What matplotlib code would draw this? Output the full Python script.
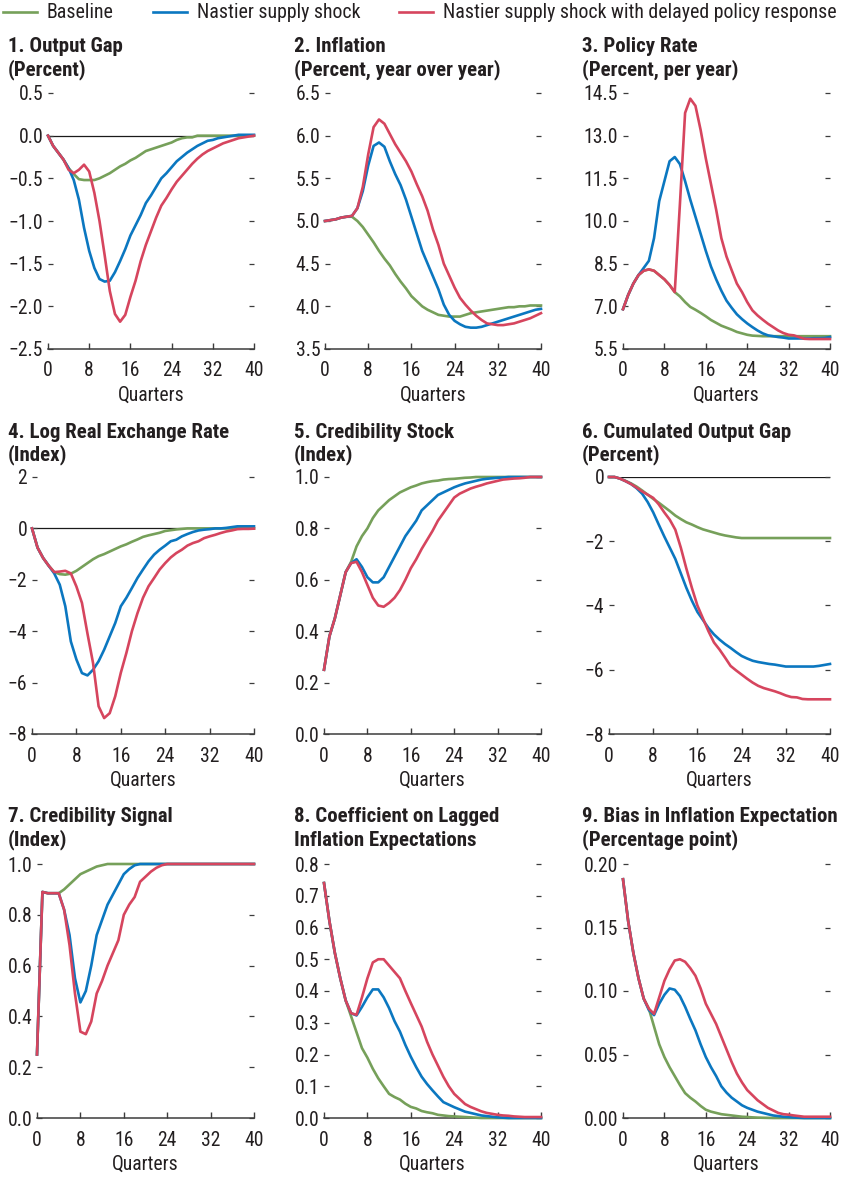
import matplotlib
matplotlib.use("Agg")
import matplotlib.pyplot as plt
import matplotlib.font_manager as fm
import numpy as np
from matplotlib.ticker import FuncFormatter, FixedLocator

# ---------------- data (quarters 0..40) ----------------
quarters = list(range(41))
series_names = ["Baseline", "Nastier supply shock",
                "Nastier supply shock with delayed policy response"]

gap_base = [0.00, -0.12, -0.20, -0.28, -0.38, -0.45, -0.51, -0.52, -0.52, -0.52,
            -0.50, -0.47, -0.44, -0.40, -0.36, -0.33, -0.29, -0.26, -0.22, -0.18,
            -0.16, -0.14, -0.12, -0.10, -0.08, -0.05, -0.03, -0.02, -0.02, 0.00,
            0.00, 0.00, 0.00, 0.00, 0.00, 0.00, 0.00, 0.00, 0.00, 0.00, 0.00]
gap_nasty = [0.00, -0.12, -0.20, -0.28, -0.38, -0.52, -0.75, -1.08, -1.35, -1.55,
             -1.68, -1.71, -1.70, -1.60, -1.47, -1.33, -1.17, -1.05, -0.93, -0.79,
             -0.70, -0.60, -0.50, -0.44, -0.37, -0.30, -0.25, -0.20, -0.16, -0.12,
             -0.09, -0.06, -0.05, -0.03, -0.02, -0.01, 0.00, 0.01, 0.01, 0.01, 0.01]
gap_delay = [0.00, -0.12, -0.20, -0.28, -0.40, -0.44, -0.40, -0.34, -0.42, -0.67,
             -1.00, -1.40, -1.82, -2.09, -2.18, -2.10, -1.89, -1.70, -1.47, -1.28,
             -1.12, -0.96, -0.82, -0.73, -0.63, -0.54, -0.47, -0.40, -0.33, -0.27,
             -0.22, -0.18, -0.15, -0.12, -0.09, -0.07, -0.05, -0.03, -0.02, -0.01, 0.00]

infl_base = [5.00, 5.01, 5.02, 5.04, 5.05, 5.05, 5.00, 4.93, 4.84, 4.75,
             4.65, 4.56, 4.48, 4.38, 4.29, 4.21, 4.12, 4.06, 4.00, 3.96,
             3.93, 3.90, 3.89, 3.88, 3.88, 3.88, 3.90, 3.92, 3.93, 3.94,
             3.95, 3.96, 3.97, 3.98, 3.99, 3.99, 4.00, 4.00, 4.01, 4.01, 4.01]
infl_nasty = [5.00, 5.01, 5.02, 5.04, 5.05, 5.06, 5.15, 5.35, 5.65, 5.88,
              5.92, 5.87, 5.70, 5.55, 5.42, 5.25, 5.05, 4.85, 4.65, 4.50,
              4.35, 4.20, 4.02, 3.90, 3.83, 3.79, 3.76, 3.75, 3.75, 3.76,
              3.78, 3.80, 3.82, 3.84, 3.86, 3.88, 3.90, 3.92, 3.94, 3.96, 3.97]
infl_delay = [5.00, 5.01, 5.02, 5.04, 5.05, 5.06, 5.15, 5.40, 5.78, 6.10,
              6.19, 6.14, 6.02, 5.90, 5.80, 5.70, 5.58, 5.43, 5.29, 5.12,
              4.90, 4.72, 4.50, 4.36, 4.22, 4.10, 4.02, 3.95, 3.89, 3.84,
              3.80, 3.79, 3.78, 3.78, 3.79, 3.80, 3.82, 3.84, 3.86, 3.89, 3.92]

rate_base = [6.90, 7.40, 7.80, 8.10, 8.25, 8.30, 8.25, 8.10, 7.95, 7.75,
             7.50, 7.35, 7.15, 6.98, 6.88, 6.77, 6.65, 6.52, 6.42, 6.32,
             6.25, 6.18, 6.10, 6.05, 6.00, 5.97, 5.96, 5.95, 5.95, 5.95,
             5.95, 5.95, 5.95, 5.95, 5.95, 5.95, 5.95, 5.95, 5.95, 5.95, 5.95]
rate_nasty = [6.90, 7.40, 7.80, 8.10, 8.35, 8.60, 9.40, 10.70, 11.40, 12.10,
              12.25, 12.00, 11.40, 10.75, 10.15, 9.55, 8.95, 8.40, 7.95, 7.55,
              7.20, 6.95, 6.72, 6.55, 6.40, 6.27, 6.15, 6.05, 5.98, 5.95,
              5.92, 5.90, 5.87, 5.87, 5.87, 5.87, 5.87, 5.88, 5.88, 5.89, 5.92]
rate_delay = [6.90, 7.40, 7.80, 8.10, 8.25, 8.30, 8.25, 8.10, 7.95, 7.75,
              7.50, 10.60, 13.80, 14.30, 14.05, 13.20, 12.20, 11.30, 10.40, 9.40,
              8.75, 8.27, 7.80, 7.50, 7.15, 6.86, 6.68, 6.53, 6.39, 6.27,
              6.15, 6.06, 6.00, 5.98, 5.92, 5.86, 5.85, 5.85, 5.85, 5.85, 5.85]

rer_base = [0.00, -0.75, -1.15, -1.45, -1.70, -1.78, -1.80, -1.76, -1.65, -1.50,
            -1.35, -1.20, -1.08, -1.00, -0.90, -0.80, -0.70, -0.62, -0.52, -0.43,
            -0.33, -0.27, -0.22, -0.17, -0.10, -0.07, -0.04, -0.02, 0.00, 0.00,
            0.00, 0.00, 0.00, 0.00, 0.00, 0.00, 0.00, 0.00, 0.00, 0.00, 0.00]
rer_nasty = [0.00, -0.75, -1.15, -1.45, -1.75, -2.19, -3.03, -4.40, -5.10, -5.63,
             -5.72, -5.50, -5.17, -4.72, -4.20, -3.68, -3.03, -2.70, -2.32, -1.93,
             -1.60, -1.28, -1.02, -0.83, -0.67, -0.50, -0.44, -0.31, -0.22, -0.14,
             -0.08, -0.05, -0.03, 0.00, 0.00, 0.02, 0.05, 0.08, 0.08, 0.08, 0.08]
rer_delay = [0.00, -0.75, -1.15, -1.45, -1.70, -1.68, -1.65, -1.75, -2.26, -2.90,
             -4.10, -5.24, -6.92, -7.38, -7.19, -6.53, -5.62, -4.85, -4.00, -3.30,
             -2.70, -2.25, -1.93, -1.60, -1.35, -1.13, -0.96, -0.83, -0.67, -0.57,
             -0.50, -0.38, -0.31, -0.25, -0.18, -0.12, -0.08, -0.03, -0.02, -0.02, -0.01]

cred_base = [0.25, 0.38, 0.45, 0.54, 0.63, 0.67, 0.73, 0.77, 0.80, 0.84,
             0.87, 0.89, 0.91, 0.925, 0.94, 0.95, 0.96, 0.967, 0.975, 0.98,
             0.984, 0.986, 0.99, 0.992, 0.993, 0.995, 0.997, 0.998, 1.0, 1.0,
             1.0, 1.0, 1.0, 1.0, 1.0, 1.0, 1.0, 1.0, 1.0, 1.0, 1.0]
cred_nasty = [0.25, 0.38, 0.45, 0.54, 0.63, 0.665, 0.68, 0.65, 0.61, 0.59,
              0.59, 0.61, 0.65, 0.69, 0.73, 0.77, 0.80, 0.83, 0.87, 0.89,
              0.91, 0.93, 0.94, 0.95, 0.96, 0.968, 0.975, 0.98, 0.985, 0.99,
              0.993, 0.995, 0.997, 0.998, 1.0, 1.0, 1.0, 1.0, 1.0, 1.0, 1.0]
cred_delay = [0.25, 0.38, 0.45, 0.54, 0.63, 0.665, 0.67, 0.63, 0.58, 0.53,
              0.50, 0.495, 0.51, 0.53, 0.56, 0.60, 0.645, 0.68, 0.72, 0.755,
              0.79, 0.83, 0.86, 0.89, 0.92, 0.935, 0.945, 0.955, 0.962, 0.968,
              0.975, 0.98, 0.985, 0.99, 0.992, 0.994, 0.995, 0.997, 1.0, 1.0, 1.0]

cumgap_base = [0.00, 0.00, -0.05, -0.12, -0.20, -0.30, -0.42, -0.55, -0.68, -0.80,
               -0.93, -1.06, -1.20, -1.31, -1.41, -1.48, -1.56, -1.63, -1.68, -1.73,
               -1.78, -1.82, -1.85, -1.88, -1.90, -1.90, -1.90, -1.90, -1.90, -1.90,
               -1.90, -1.90, -1.90, -1.90, -1.90, -1.90, -1.90, -1.90, -1.90, -1.90, -1.90]
cumgap_nasty = [0.00, 0.00, -0.05, -0.13, -0.22, -0.35, -0.52, -0.78, -1.10, -1.48,
                -1.85, -2.20, -2.55, -3.00, -3.45, -3.85, -4.20, -4.45, -4.70, -4.90,
                -5.06, -5.20, -5.32, -5.45, -5.57, -5.65, -5.72, -5.76, -5.79, -5.82,
                -5.84, -5.87, -5.90, -5.90, -5.90, -5.90, -5.90, -5.90, -5.88, -5.85, -5.82]
cumgap_delay = [0.00, 0.00, -0.05, -0.13, -0.22, -0.33, -0.45, -0.55, -0.65, -0.85,
                -1.10, -1.33, -1.64, -2.20, -2.85, -3.45, -4.00, -4.40, -4.80, -5.15,
                -5.37, -5.62, -5.88, -6.02, -6.15, -6.28, -6.40, -6.50, -6.57, -6.62,
                -6.67, -6.73, -6.80, -6.85, -6.86, -6.91, -6.92, -6.92, -6.92, -6.92, -6.92]

signal_base = [0.25, 0.89, 0.885, 0.885, 0.885, 0.90, 0.92, 0.94, 0.96, 0.97,
               0.98, 0.99, 0.995, 1.0, 1.0, 1.0, 1.0, 1.0, 1.0, 1.0,
               1.0, 1.0, 1.0, 1.0, 1.0, 1.0, 1.0, 1.0, 1.0, 1.0,
               1.0, 1.0, 1.0, 1.0, 1.0, 1.0, 1.0, 1.0, 1.0, 1.0, 1.0]
signal_nasty = [0.25, 0.89, 0.885, 0.885, 0.885, 0.82, 0.72, 0.55, 0.455, 0.50,
                0.60, 0.72, 0.78, 0.84, 0.88, 0.92, 0.96, 0.98, 0.995, 1.0,
                1.0, 1.0, 1.0, 1.0, 1.0, 1.0, 1.0, 1.0, 1.0, 1.0,
                1.0, 1.0, 1.0, 1.0, 1.0, 1.0, 1.0, 1.0, 1.0, 1.0, 1.0]
signal_delay = [0.25, 0.89, 0.885, 0.885, 0.885, 0.82, 0.68, 0.49, 0.34, 0.33,
                0.38, 0.49, 0.54, 0.60, 0.65, 0.70, 0.80, 0.84, 0.87, 0.93,
                0.95, 0.97, 0.985, 0.995, 1.0, 1.0, 1.0, 1.0, 1.0, 1.0,
                1.0, 1.0, 1.0, 1.0, 1.0, 1.0, 1.0, 1.0, 1.0, 1.0, 1.0]

coef_base = [0.74, 0.62, 0.52, 0.44, 0.37, 0.32, 0.27, 0.22, 0.19, 0.155,
             0.125, 0.10, 0.076, 0.066, 0.058, 0.045, 0.035, 0.03, 0.022, 0.018,
             0.015, 0.01, 0.008, 0.006, 0.005, 0.004, 0.003, 0.002, 0.001, 0.0,
             0.0, 0.0, 0.0, 0.0, 0.0, 0.0, 0.0, 0.0, 0.0, 0.0, 0.0]
coef_nasty = [0.74, 0.62, 0.52, 0.44, 0.37, 0.33, 0.323, 0.35, 0.38, 0.405,
              0.405, 0.38, 0.346, 0.305, 0.272, 0.23, 0.193, 0.16, 0.13, 0.107,
              0.087, 0.068, 0.05, 0.042, 0.034, 0.027, 0.02, 0.016, 0.012, 0.008,
              0.006, 0.004, 0.002, 0.001, 0.0, 0.0, 0.0, 0.0, 0.0, 0.0, 0.0]
coef_delay = [0.74, 0.62, 0.52, 0.44, 0.37, 0.33, 0.325, 0.38, 0.44, 0.49,
              0.50, 0.50, 0.48, 0.46, 0.44, 0.40, 0.362, 0.325, 0.288, 0.24,
              0.20, 0.165, 0.13, 0.10, 0.076, 0.06, 0.044, 0.035, 0.028, 0.021,
              0.016, 0.013, 0.01, 0.008, 0.007, 0.005, 0.004, 0.003, 0.003, 0.003, 0.003]

bias_base = [0.188, 0.155, 0.13, 0.11, 0.094, 0.086, 0.072, 0.058, 0.048, 0.04,
             0.033, 0.026, 0.0196, 0.016, 0.013, 0.0095, 0.0065, 0.005, 0.004, 0.003,
             0.0025, 0.002, 0.0015, 0.001, 0.0008, 0.0005, 0.0003, 0.0002, 0.0001, 0.0,
             0.0, 0.0, 0.0, 0.0, 0.0, 0.0, 0.0, 0.0, 0.0, 0.0, 0.0]
bias_nasty = [0.188, 0.155, 0.13, 0.11, 0.094, 0.085, 0.081, 0.09, 0.097, 0.102,
              0.101, 0.096, 0.0876, 0.078, 0.069, 0.058, 0.048, 0.04, 0.033, 0.025,
              0.02, 0.016, 0.013, 0.01, 0.008, 0.0065, 0.005, 0.004, 0.003, 0.002,
              0.0015, 0.001, 0.0007, 0.0004, 0.0002, 0.0, 0.0, 0.0, 0.0, 0.0, 0.0]
bias_delay = [0.188, 0.155, 0.13, 0.11, 0.094, 0.086, 0.082, 0.095, 0.108, 0.117,
              0.124, 0.125, 0.123, 0.118, 0.112, 0.102, 0.09, 0.082, 0.074, 0.064,
              0.054, 0.044, 0.035, 0.028, 0.022, 0.018, 0.014, 0.011, 0.008, 0.006,
              0.004, 0.003, 0.0026, 0.002, 0.0015, 0.001, 0.001, 0.001, 0.001, 0.001, 0.001]

titles = ["1. Output Gap", "2. Inflation", "3. Policy Rate",
          "4. Log Real Exchange Rate", "5. Credibility Stock", "6. Cumulated Output Gap",
          "7. Credibility Signal", "8. Coefficient on Lagged", "9. Bias in Inflation Expectation"]
subtitles = ["(Percent)", "(Percent, year over year)", "(Percent, per year)",
             "(Index)", "(Index)", "(Percent)",
             "(Index)", "Inflation Expectations", "(Percentage point)"]
x_ticks = [0, 8, 16, 24, 32, 40]
x_label = "Quarters"

# ---------------- font: prefer an installed condensed sans ----------------
def pick_font():
    prefs = ["Liberation Sans Narrow", "Roboto Condensed", "Open Sans Condensed",
             "Noto Sans Condensed", "DejaVu Sans Condensed", "Arial Narrow"]
    entries = fm.fontManager.ttflist
    for p in prefs:
        for f in entries:
            if f.name == p:
                return f.name, "normal"
    for base in ["Roboto", "Open Sans", "Noto Sans", "Liberation Sans", "DejaVu Sans"]:
        for f in entries:
            st = f.stretch
            cond = (isinstance(st, str) and "condensed" in st) or \
                   (isinstance(st, (int, float)) and st < 500)
            if f.name == base and cond:
                return f.name, st
    for f in entries:
        if "Narrow" in f.name or "Condensed" in f.name:
            return f.name, "normal"
    return "Liberation Sans", "normal"


fam, stretch = pick_font()
plt.rcParams['font.family'] = [fam, 'DejaVu Sans']
plt.rcParams['font.stretch'] = stretch

W, H = 842, 1181
fig = plt.figure(figsize=(W / 100, H / 100), dpi=100)
renderer = fig.canvas.get_renderer()


def fit_size(text, target_px, weight="normal"):
    t = fig.text(0, 0, text, fontsize=10, fontweight=weight)
    w = t.get_window_extent(renderer).width
    t.remove()
    return 10 * target_px / w


title_fs = min(fit_size("(Percent, year over year)", 207, "bold"), 16)
tick_fs = min(fit_size("Quarters", 66), 15)
legend_fs = min(fit_size("Nastier supply shock", 163), 16)

# ---------------- style ----------------
colors = ["#76a05a", "#0b77c0", "#d6455e"]
ink = "#231f20"

panels = [
    # data, ylim, step, decimals, zero line, box (l, r, t, b) px, title (x, y) px
    ((gap_base, gap_nasty, gap_delay), (-2.5, 0.5), 0.5, 1, True, (48, 254, 93, 349), (8, 47)),
    ((infl_base, infl_nasty, infl_delay), (3.5, 6.5), 0.5, 1, False, (325, 541, 93, 349), (294, 47)),
    ((rate_base, rate_nasty, rate_delay), (5.5, 14.5), 1.5, 1, False, (623, 830, 93, 349), (582, 47)),
    ((rer_base, rer_nasty, rer_delay), (-8, 2), 2, 0, True, (32, 254, 477, 734), (8, 432)),
    ((cred_base, cred_nasty, cred_delay), (0, 1), 0.2, 1, False, (324, 541, 477, 734), (294, 432)),
    ((cumgap_base, cumgap_nasty, cumgap_delay), (-8, 0), 2, 0, True, (609, 830, 477, 734), (582, 432)),
    ((signal_base, signal_nasty, signal_delay), (0, 1), 0.2, 1, False, (37, 254, 864, 1118), (8, 817)),
    ((coef_base, coef_nasty, coef_delay), (0, 0.8), 0.1, 1, False, (324, 541, 864, 1118), (294, 817)),
    ((bias_base, bias_nasty, bias_delay), (0, 0.2), 0.05, 2, False, (623, 830, 864, 1118), (582, 817)),
]


def make_fmt(dec):
    def f(v, pos):
        if abs(v) < 1e-9:
            v = 0.0
        return f"{v:.{dec}f}".replace("-", "\u2212")
    return FuncFormatter(f)


handles = None
for i, (data, ylim, step, dec, zero, box, tpos) in enumerate(panels):
    l, r, t, b = box
    ax = fig.add_axes([l / W, 1 - b / H, (r - l) / W, (b - t) / H])
    if zero:
        ax.axhline(0, color="#1a1a1a", lw=0.9, zorder=1)
    hs = []
    for ser, c, name in zip(data, colors, series_names):
        h, = ax.plot(quarters, ser, color=c, lw=1.9, label=name, zorder=3,
                     solid_joinstyle="round", clip_on=False)
        hs.append(h)
    if handles is None:
        handles = hs
    ax.set_xlim(0, 40)
    ax.set_ylim(*ylim)
    ax.set_xticks(x_ticks)
    n = int(round((ylim[1] - ylim[0]) / step))
    ax.yaxis.set_major_locator(FixedLocator([ylim[0] + k * step for k in range(n + 1)]))
    ax.yaxis.set_major_formatter(make_fmt(dec))
    for s in ("top", "left", "right"):
        ax.spines[s].set_visible(False)
    ax.spines["bottom"].set_color("#3c3c3c")
    ax.spines["bottom"].set_linewidth(1.1)
    ax.tick_params(axis="x", direction="in", length=4, width=1.0, color="#3c3c3c",
                   labelsize=tick_fs, labelcolor=ink, pad=9)
    ax.tick_params(axis="y", direction="in", length=3.5, width=0.9, color="#3c3c3c",
                   left=True, right=True, labelsize=tick_fs, labelcolor=ink, pad=3.5)
    ax.set_xlabel(x_label, fontsize=tick_fs, color=ink, labelpad=4)
    ax.patch.set_alpha(0)
    fig.text(tpos[0] / W, 1 - tpos[1] / H, titles[i], fontsize=title_fs, fontweight="bold",
             color=ink, ha="left", va="center")
    fig.text(tpos[0] / W, 1 - (tpos[1] + 23) / H, subtitles[i], fontsize=title_fs,
             fontweight="bold", color=ink, ha="left", va="center")

fs_px = legend_fs * 100 / 72
fig.legend(handles, series_names, loc="center left", bbox_to_anchor=(3 / W, 1 - 13 / H),
           ncol=3, frameon=False, fontsize=legend_fs, handlelength=34 / fs_px,
           handletextpad=10 / fs_px, columnspacing=39 / fs_px, borderaxespad=0.0,
           borderpad=0.0, labelcolor=ink)

fig.savefig("out.png", dpi=100)
